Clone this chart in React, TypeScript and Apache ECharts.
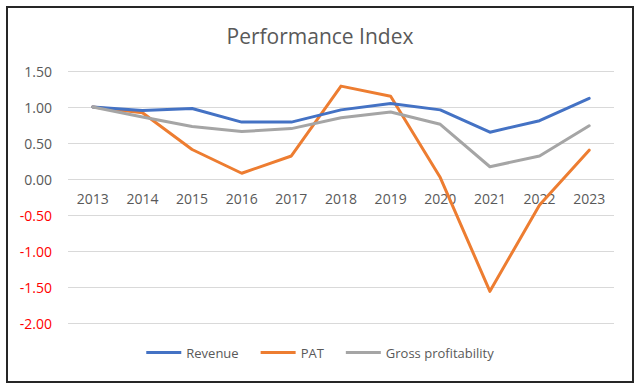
import React, { useEffect, useRef } from "react";
import * as echarts from "echarts";

const years = ["2013", "2014", "2015", "2016", "2017", "2018", "2019", "2020", "2021", "2022", "2023"];
const revenue = [1.0, 0.95, 0.98, 0.79, 0.79, 0.96, 1.05, 0.96, 0.65, 0.81, 1.12];
const pat = [1.0, 0.92, 0.41, 0.08, 0.32, 1.29, 1.15, 0.02, -1.56, -0.36, 0.4];
const gross = [1.0, 0.86, 0.73, 0.66, 0.7, 0.85, 0.93, 0.76, 0.17, 0.32, 0.74];
const seriesNames = ["Revenue", "PAT", "Gross profitability"];
const seriesColors = ["#4472C4", "#ED7D31", "#A5A5A5"];
const seriesZ = [3, 2, 4];

const FONT = "Open Sans";
const TEXT = "#595959";

export default function App() {
  const ref = useRef<HTMLDivElement>(null);
  useEffect(() => {
    const chart = echarts.init(ref.current!, null, { renderer: "svg" });
    const datasets = [revenue, pat, gross];
    chart.setOption({
      animation: false,
      backgroundColor: "#ffffff",
      title: {
        text: "Performance Index",
        left: "center",
        top: 20,
        textStyle: { fontFamily: FONT, fontSize: 21, fontWeight: "normal", color: TEXT },
      },
      grid: { left: 68, right: 26, top: 71, bottom: 65, containLabel: false },
      legend: {
        bottom: 24,
        left: "center",
        itemWidth: 35,
        itemHeight: 3,
        itemGap: 22,
        icon: "rect",
        textStyle: { fontFamily: FONT, fontSize: 13, color: TEXT },
        data: seriesNames,
      },
      xAxis: {
        type: "category",
        data: years,
        boundaryGap: true,
        offset: -144,
        axisLine: { show: false, onZero: false },
        axisTick: { show: false },
        axisLabel: { fontFamily: FONT, fontSize: 14, color: TEXT, margin: 12 },
      },
      yAxis: {
        type: "value",
        min: -2,
        max: 1.5,
        interval: 0.5,
        axisLine: { show: false },
        axisTick: { show: false },
        splitLine: { lineStyle: { color: "#D9D9D9", width: 1 } },
        axisLabel: {
          margin: 16,
          formatter: (v: number) => (v < 0 ? `{neg|${v.toFixed(2)}}` : `{pos|${v.toFixed(2)}}`),
          rich: {
            neg: { fontFamily: FONT, fontSize: 14, color: "#FF0000" },
            pos: { fontFamily: FONT, fontSize: 14, color: TEXT },
          },
        },
      },
      series: seriesNames.map((name, i) => ({
        name,
        type: "line",
        data: datasets[i],
        symbol: "none",
        color: seriesColors[i],
        lineStyle: { width: 3, color: seriesColors[i], join: "round", cap: "round" },
        z: seriesZ[i],
      })),
      graphic: [
        {
          type: "rect",
          shape: { x: 7, y: 7, width: 626, height: 375 },
          style: { fill: "none", stroke: "#262626", lineWidth: 2 },
          silent: true,
          z: 100,
        },
      ],
    });
    return () => chart.dispose();
  }, []);
  return (
    <div
      ref={ref}
      style={{ position: "absolute", left: 0, top: 0, width: 640, height: 388 }}
    />
  );
}
